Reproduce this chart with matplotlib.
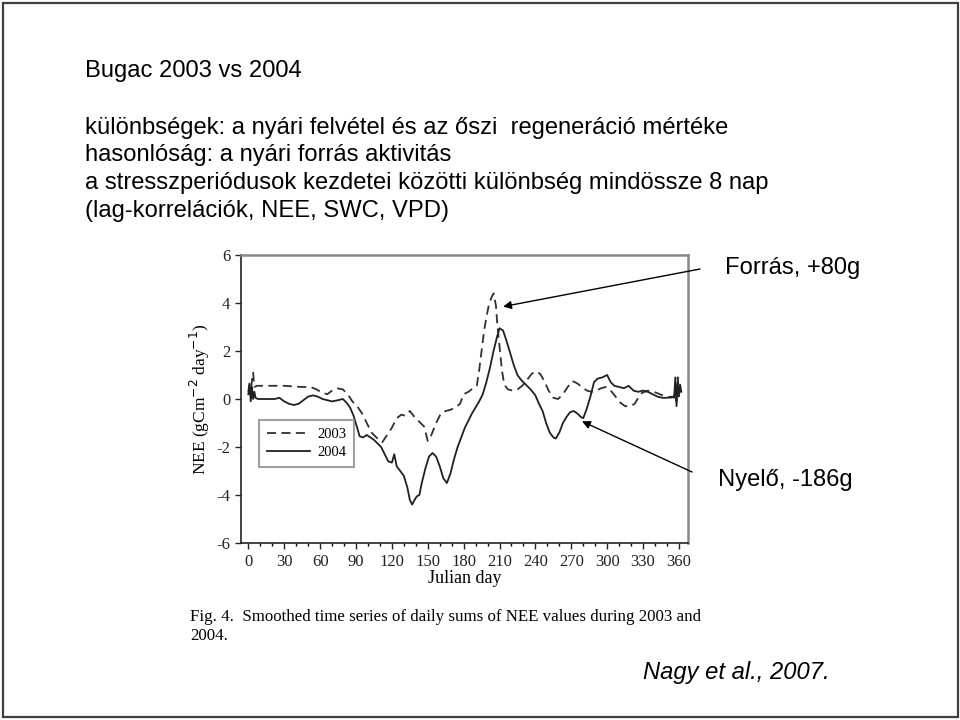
import matplotlib
matplotlib.use('Agg')
import matplotlib.pyplot as plt
from matplotlib.patches import Rectangle
from matplotlib.ticker import MultipleLocator

plt.rcParams['axes.unicode_minus'] = False

# smoothed daily NEE sums (gC m-2 day-1)
days_2003 = [0, 1, 2, 3, 4, 5, 7, 15, 30, 45, 52, 57, 62, 66, 70, 74, 79, 83, 87, 91,
             95, 99, 103, 107, 112, 116, 120, 124, 128, 131, 135, 139, 143, 147, 150,
             153, 157, 161, 165, 169, 173, 177, 180, 184, 188, 191, 193, 195, 197, 199,
             201, 203, 205, 207, 208, 210, 212, 214, 217, 221, 225, 229, 233, 237, 240,
             244, 248, 251, 255, 259, 263, 267, 271, 275, 279, 283, 287, 291, 295, 299,
             303, 307, 311, 315, 319, 323, 326, 329, 334, 339, 344, 349, 353, 356, 357,
             358, 359, 360, 361, 362]
nee_2003 = [0.3, 0.7, 0.2, 0.8, 1.1, 0.5, 0.55, 0.55, 0.55, 0.5, 0.5, 0.4, 0.25, 0.2,
            0.35, 0.45, 0.4, 0.2, -0.1, -0.3, -0.6, -1.0, -1.4, -1.6, -1.8, -1.5, -1.2,
            -0.8, -0.65, -0.7, -0.5, -0.75, -0.95, -1.15, -1.75, -1.5, -1.0, -0.6, -0.5,
            -0.45, -0.35, -0.2, 0.2, 0.3, 0.45, 0.55, 1.2, 2.0, 2.8, 3.4, 3.9, 4.2, 4.4,
            3.9, 3.2, 2.2, 1.2, 0.6, 0.4, 0.35, 0.4, 0.55, 0.8, 1.05, 1.15, 1.05, 0.7,
            0.35, 0.05, 0.0, 0.2, 0.5, 0.75, 0.65, 0.5, 0.35, 0.3, 0.35, 0.45, 0.5, 0.35,
            0.1, -0.15, -0.3, -0.3, -0.2, 0.05, 0.25, 0.35, 0.3, 0.2, 0.1, 0.05, 0.1, 0.6,
            -0.1, 0.9, 0.2, 0.5, 0.3]

days_2004 = [0, 1, 2, 3, 4, 5, 6, 8, 15, 22, 26, 30, 34, 38, 42, 46, 50, 54, 58, 62,
             66, 70, 75, 79, 82, 85, 88, 91, 93, 96, 99, 102, 105, 108, 111, 114, 117,
             120, 122, 124, 127, 130, 133, 135, 137, 139, 141, 143, 145, 148, 151, 154,
             157, 160, 163, 166, 169, 172, 175, 178, 181, 184, 187, 190, 193, 196, 199,
             202, 205, 208, 210, 213, 216, 219, 222, 225, 228, 232, 236, 240, 243, 246,
             249, 252, 255, 257, 260, 263, 266, 269, 272, 275, 278, 280, 283, 286, 289,
             292, 296, 300, 303, 306, 310, 314, 318, 322, 326, 330, 334, 338, 342, 346,
             350, 354, 356, 357, 358, 359, 360, 361, 362]
nee_2004 = [0.2, 0.6, -0.1, 0.5, 0.0, 0.3, 0.05, 0.0, 0.0, 0.0, 0.05, -0.1, -0.2, -0.25,
            -0.2, -0.05, 0.1, 0.15, 0.1, 0.0, -0.05, -0.1, -0.05, 0.0, -0.15, -0.35, -0.7,
            -1.2, -1.55, -1.6, -1.5, -1.6, -1.7, -1.85, -2.0, -2.3, -2.6, -2.65, -2.3,
            -2.8, -3.0, -3.2, -3.7, -4.2, -4.4, -4.2, -4.05, -4.0, -3.5, -2.9, -2.4, -2.25,
            -2.4, -2.8, -3.3, -3.5, -3.1, -2.5, -2.0, -1.6, -1.2, -0.9, -0.6, -0.35, -0.1,
            0.2, 0.7, 1.3, 2.0, 2.6, 2.95, 2.85, 2.4, 1.9, 1.4, 1.0, 0.8, 0.6, 0.4, 0.15,
            -0.2, -0.5, -1.0, -1.4, -1.6, -1.65, -1.4, -1.0, -0.75, -0.55, -0.5, -0.6,
            -0.75, -0.8, -0.4, 0.1, 0.7, 0.85, 0.9, 1.0, 0.7, 0.55, 0.5, 0.45, 0.55, 0.35,
            0.3, 0.35, 0.3, 0.2, 0.1, 0.05, 0.05, 0.1, 0.05, 0.9, -0.3, 0.7, 0.1, 0.6, 0.3]

slide_lines = [
    'különbségek: a nyári felvétel és az őszi  regeneráció mértéke',
    'hasonlóság: a nyári forrás aktivitás',
    'a stresszperiódusok kezdetei közötti különbség mindössze 8 nap',
    '(lag-korrelációk, NEE, SWC, VPD)',
]

W, H = 960, 720
fig = plt.figure(figsize=(9.6, 7.2), dpi=100)
fig.patch.set_facecolor('white')


def fx(px):
    return px / W


def fy(py):
    return 1 - py / H


sans = ['Liberation Sans', 'DejaVu Sans']
serif = ['Liberation Serif', 'DejaVu Serif']

# slide frame
fig.add_artist(Rectangle((fx(3), fy(717)), fx(955), (714) / H, transform=fig.transFigure,
                         fill=False, edgecolor='#404040', lw=1.6))

fig.text(fx(85), fy(71), 'Bugac 2003 vs 2004', family=sans, fontsize=17.1, va='center')
for i, line in enumerate(slide_lines):
    fig.text(fx(85), fy(128 + i * 27.5), line, family=sans, fontsize=17.1, va='center')

ax = fig.add_axes([fx(240.7), fy(543), (688 - 240.7) / W, (543 - 255) / H])
ax.plot(days_2003, nee_2003, color='#303030', lw=1.3, ls=(0, (5, 3)), label='2003')
ax.plot(days_2004, nee_2004, color='#202020', lw=1.3, label='2004')

ax.set_xlim(-6.4, 367.6)
ax.set_ylim(-6, 6)
ax.xaxis.set_major_locator(MultipleLocator(30))
ax.xaxis.set_minor_locator(MultipleLocator(10))
ax.yaxis.set_major_locator(MultipleLocator(2))
ax.tick_params(axis='both', which='major', direction='out', length=4, width=1,
               labelsize=12, colors='#222222')
ax.tick_params(axis='x', which='major', pad=4)
ax.tick_params(axis='x', which='minor', direction='out', length=2.5, width=1)
for lab in ax.get_xticklabels() + ax.get_yticklabels():
    lab.set_family(serif)
for side in ['top', 'right']:
    ax.spines[side].set_color('#888888')
    ax.spines[side].set_linewidth(1.8)
for side in ['left', 'bottom']:
    ax.spines[side].set_color('#222222')
    ax.spines[side].set_linewidth(1.2)

ax.set_xlabel('Julian day', family=serif, fontsize=13, labelpad=0)
ax.set_ylabel('NEE (gCm$^{-2}$ day$^{-1}$)', family=serif, fontsize=12.5, labelpad=3)

leg = ax.legend(loc='upper left', bbox_to_anchor=(0.0416, 0.427),
                prop={'family': serif, 'size': 10.5}, fancybox=False, frameon=True,
                handlelength=2.9, handletextpad=0.5, borderaxespad=0, labelspacing=0.3,
                borderpad=0.55)
leg.get_frame().set_edgecolor('#888888')
leg.get_frame().set_linewidth(1.5)

ax.annotate('', xy=(213, 3.85), xycoords='data', xytext=(fx(700), fy(269)),
            textcoords='figure fraction',
            arrowprops=dict(arrowstyle='-|>', color='black', lw=1, mutation_scale=12,
                            shrinkA=0, shrinkB=0))
ax.annotate('', xy=(279, -0.93), xycoords='data', xytext=(fx(692), fy(472)),
            textcoords='figure fraction',
            arrowprops=dict(arrowstyle='-|>', color='black', lw=1, mutation_scale=12,
                            shrinkA=0, shrinkB=0))

fig.text(fx(725), fy(268), 'Forrás, +80g', family=sans, fontsize=17.1, va='center')
fig.text(fx(718), fy(480), 'Nyelő, -186g', family=sans, fontsize=17.1, va='center')
fig.text(fx(643), fy(673), 'Nagy et al., 2007.', family=sans, fontsize=17.1, style='italic',
         va='center')

fig.text(fx(190), fy(617), 'Fig. 4.  Smoothed time series of daily sums of NEE values during 2003 and',
         family=serif, fontsize=12.2, va='center')
fig.text(fx(190), fy(636), '2004.', family=serif, fontsize=12.2, va='center')

plt.savefig('out.png', dpi=100)
plt.close()
